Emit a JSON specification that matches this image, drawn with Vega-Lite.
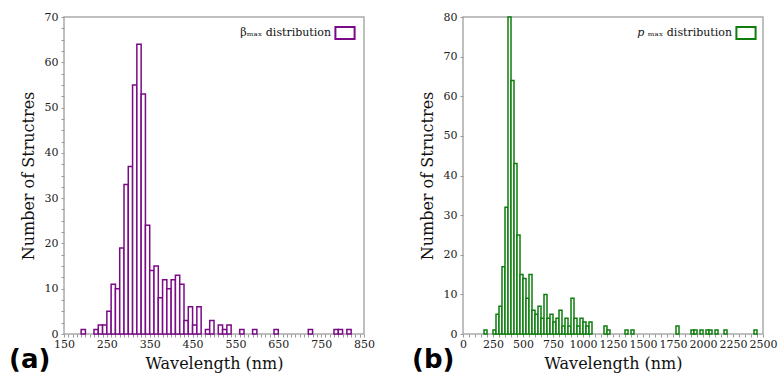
{
  "$schema": "https://vega.github.io/schema/vega-lite/v6.json",
  "padding": {"left": 8, "top": 10, "right": 0, "bottom": 0},
  "background": "white",
  "datasets": {
    "beta": [
      {"lo": 190, "hi": 200, "count": 1, "series": "βₘₐₓ distribution"},
      {"lo": 220, "hi": 230, "count": 1, "series": "βₘₐₓ distribution"},
      {"lo": 230, "hi": 240, "count": 2, "series": "βₘₐₓ distribution"},
      {"lo": 240, "hi": 250, "count": 2, "series": "βₘₐₓ distribution"},
      {"lo": 250, "hi": 260, "count": 5, "series": "βₘₐₓ distribution"},
      {"lo": 260, "hi": 270, "count": 11, "series": "βₘₐₓ distribution"},
      {"lo": 270, "hi": 280, "count": 10, "series": "βₘₐₓ distribution"},
      {"lo": 280, "hi": 290, "count": 19, "series": "βₘₐₓ distribution"},
      {"lo": 290, "hi": 300, "count": 33, "series": "βₘₐₓ distribution"},
      {"lo": 300, "hi": 310, "count": 37, "series": "βₘₐₓ distribution"},
      {"lo": 310, "hi": 320, "count": 55, "series": "βₘₐₓ distribution"},
      {"lo": 320, "hi": 330, "count": 64, "series": "βₘₐₓ distribution"},
      {"lo": 330, "hi": 340, "count": 53, "series": "βₘₐₓ distribution"},
      {"lo": 340, "hi": 350, "count": 24, "series": "βₘₐₓ distribution"},
      {"lo": 350, "hi": 360, "count": 14, "series": "βₘₐₓ distribution"},
      {"lo": 360, "hi": 370, "count": 15, "series": "βₘₐₓ distribution"},
      {"lo": 370, "hi": 380, "count": 8, "series": "βₘₐₓ distribution"},
      {"lo": 380, "hi": 390, "count": 12, "series": "βₘₐₓ distribution"},
      {"lo": 390, "hi": 400, "count": 10, "series": "βₘₐₓ distribution"},
      {"lo": 400, "hi": 410, "count": 12, "series": "βₘₐₓ distribution"},
      {"lo": 410, "hi": 420, "count": 13, "series": "βₘₐₓ distribution"},
      {"lo": 420, "hi": 430, "count": 11, "series": "βₘₐₓ distribution"},
      {"lo": 430, "hi": 440, "count": 3, "series": "βₘₐₓ distribution"},
      {"lo": 440, "hi": 450, "count": 6, "series": "βₘₐₓ distribution"},
      {"lo": 450, "hi": 460, "count": 2, "series": "βₘₐₓ distribution"},
      {"lo": 460, "hi": 470, "count": 6, "series": "βₘₐₓ distribution"},
      {"lo": 480, "hi": 490, "count": 1, "series": "βₘₐₓ distribution"},
      {"lo": 490, "hi": 500, "count": 3, "series": "βₘₐₓ distribution"},
      {"lo": 510, "hi": 520, "count": 2, "series": "βₘₐₓ distribution"},
      {"lo": 520, "hi": 530, "count": 1, "series": "βₘₐₓ distribution"},
      {"lo": 530, "hi": 540, "count": 2, "series": "βₘₐₓ distribution"},
      {"lo": 560, "hi": 570, "count": 1, "series": "βₘₐₓ distribution"},
      {"lo": 590, "hi": 600, "count": 1, "series": "βₘₐₓ distribution"},
      {"lo": 640, "hi": 650, "count": 1, "series": "βₘₐₓ distribution"},
      {"lo": 720, "hi": 730, "count": 1, "series": "βₘₐₓ distribution"},
      {"lo": 780, "hi": 790, "count": 1, "series": "βₘₐₓ distribution"},
      {"lo": 790, "hi": 800, "count": 1, "series": "βₘₐₓ distribution"},
      {"lo": 810, "hi": 820, "count": 1, "series": "βₘₐₓ distribution"}
    ],
    "pmax": [
      {"lo": 175, "hi": 200, "count": 1, "series": "𝑝 ₘₐₓ distribution"},
      {"lo": 250, "hi": 275, "count": 1, "series": "𝑝 ₘₐₓ distribution"},
      {"lo": 275, "hi": 300, "count": 5, "series": "𝑝 ₘₐₓ distribution"},
      {"lo": 300, "hi": 325, "count": 7, "series": "𝑝 ₘₐₓ distribution"},
      {"lo": 325, "hi": 350, "count": 17, "series": "𝑝 ₘₐₓ distribution"},
      {"lo": 350, "hi": 375, "count": 32, "series": "𝑝 ₘₐₓ distribution"},
      {"lo": 375, "hi": 400, "count": 80, "series": "𝑝 ₘₐₓ distribution"},
      {"lo": 400, "hi": 425, "count": 64, "series": "𝑝 ₘₐₓ distribution"},
      {"lo": 425, "hi": 450, "count": 43, "series": "𝑝 ₘₐₓ distribution"},
      {"lo": 450, "hi": 475, "count": 25, "series": "𝑝 ₘₐₓ distribution"},
      {"lo": 475, "hi": 500, "count": 15, "series": "𝑝 ₘₐₓ distribution"},
      {"lo": 500, "hi": 525, "count": 14, "series": "𝑝 ₘₐₓ distribution"},
      {"lo": 525, "hi": 550, "count": 9, "series": "𝑝 ₘₐₓ distribution"},
      {"lo": 550, "hi": 575, "count": 15, "series": "𝑝 ₘₐₓ distribution"},
      {"lo": 575, "hi": 600, "count": 6, "series": "𝑝 ₘₐₓ distribution"},
      {"lo": 600, "hi": 625, "count": 5, "series": "𝑝 ₘₐₓ distribution"},
      {"lo": 625, "hi": 650, "count": 7, "series": "𝑝 ₘₐₓ distribution"},
      {"lo": 650, "hi": 675, "count": 4, "series": "𝑝 ₘₐₓ distribution"},
      {"lo": 675, "hi": 700, "count": 10, "series": "𝑝 ₘₐₓ distribution"},
      {"lo": 700, "hi": 725, "count": 4, "series": "𝑝 ₘₐₓ distribution"},
      {"lo": 725, "hi": 750, "count": 5, "series": "𝑝 ₘₐₓ distribution"},
      {"lo": 750, "hi": 775, "count": 3, "series": "𝑝 ₘₐₓ distribution"},
      {"lo": 775, "hi": 800, "count": 4, "series": "𝑝 ₘₐₓ distribution"},
      {"lo": 800, "hi": 825, "count": 6, "series": "𝑝 ₘₐₓ distribution"},
      {"lo": 825, "hi": 850, "count": 2, "series": "𝑝 ₘₐₓ distribution"},
      {"lo": 850, "hi": 875, "count": 4, "series": "𝑝 ₘₐₓ distribution"},
      {"lo": 875, "hi": 900, "count": 2, "series": "𝑝 ₘₐₓ distribution"},
      {"lo": 900, "hi": 925, "count": 9, "series": "𝑝 ₘₐₓ distribution"},
      {"lo": 925, "hi": 950, "count": 4, "series": "𝑝 ₘₐₓ distribution"},
      {"lo": 950, "hi": 975, "count": 2, "series": "𝑝 ₘₐₓ distribution"},
      {"lo": 975, "hi": 1000, "count": 4, "series": "𝑝 ₘₐₓ distribution"},
      {"lo": 1000, "hi": 1025, "count": 3, "series": "𝑝 ₘₐₓ distribution"},
      {"lo": 1025, "hi": 1050, "count": 2, "series": "𝑝 ₘₐₓ distribution"},
      {"lo": 1050, "hi": 1075, "count": 3, "series": "𝑝 ₘₐₓ distribution"},
      {"lo": 1175, "hi": 1200, "count": 2, "series": "𝑝 ₘₐₓ distribution"},
      {"lo": 1200, "hi": 1225, "count": 1, "series": "𝑝 ₘₐₓ distribution"},
      {"lo": 1350, "hi": 1375, "count": 1, "series": "𝑝 ₘₐₓ distribution"},
      {"lo": 1400, "hi": 1425, "count": 1, "series": "𝑝 ₘₐₓ distribution"},
      {"lo": 1775, "hi": 1800, "count": 2, "series": "𝑝 ₘₐₓ distribution"},
      {"lo": 1900, "hi": 1925, "count": 1, "series": "𝑝 ₘₐₓ distribution"},
      {"lo": 1925, "hi": 1950, "count": 1, "series": "𝑝 ₘₐₓ distribution"},
      {"lo": 1975, "hi": 2000, "count": 1, "series": "𝑝 ₘₐₓ distribution"},
      {"lo": 2025, "hi": 2050, "count": 1, "series": "𝑝 ₘₐₓ distribution"},
      {"lo": 2050, "hi": 2075, "count": 1, "series": "𝑝 ₘₐₓ distribution"},
      {"lo": 2100, "hi": 2125, "count": 1, "series": "𝑝 ₘₐₓ distribution"},
      {"lo": 2175, "hi": 2200, "count": 1, "series": "𝑝 ₘₐₓ distribution"},
      {"lo": 2425, "hi": 2450, "count": 1, "series": "𝑝 ₘₐₓ distribution"}
    ]
  },
  "spacing": 35,
  "resolve": {"scale": {"stroke": "independent"}, "legend": {"stroke": "independent"}},
  "hconcat": [
    {
      "width": 300,
      "height": 317,
      "data": {"name": "beta"},
      "title": {"text": "(a)", "orient": "bottom", "anchor": "start", "frame": "group", "dx": -55, "offset": -24},
      "mark": {"type": "rect", "fill": "white", "strokeWidth": 1.5},
      "encoding": {
        "x": {
          "field": "lo", "type": "quantitative",
          "scale": {"domain": [150, 850], "nice": false, "zero": false},
          "title": "Wavelength (nm)",
          "axis": {
            "format": "d",
            "values": [150,160,170,180,190,200,210,220,230,240,250,260,270,280,290,300,310,320,330,340,350,360,370,380,390,400,410,420,430,440,450,460,470,480,490,500,510,520,530,540,550,560,570,580,590,600,610,620,630,640,650,660,670,680,690,700,710,720,730,740,750,760,770,780,790,800,810,820,830,840,850],
            "labelExpr": "(datum.value - 150) % 100 === 0 ? datum.label : ''"
          }
        },
        "x2": {"field": "hi"},
        "y": {
          "field": "count", "type": "quantitative",
          "scale": {"domain": [0, 70], "nice": false},
          "title": "Number of Structres",
          "axis": {
            "values": [0,2.5,5,7.5,10,12.5,15,17.5,20,22.5,25,27.5,30,32.5,35,37.5,40,42.5,45,47.5,50,52.5,55,57.5,60,62.5,65,67.5,70],
            "labelExpr": "datum.value % 10 === 0 ? datum.label : ''"
          }
        },
        "y2": {"datum": 0},
        "stroke": {
          "field": "series", "type": "nominal",
          "scale": {"range": ["#7a0a86"]},
          "legend": {"orient": "none", "legendX": 274, "legendY": 9}
        }
      }
    },
    {
      "width": 300,
      "height": 317,
      "data": {"name": "pmax"},
      "title": {"text": "(b)", "orient": "bottom", "anchor": "start", "frame": "group", "dx": -51, "offset": -24},
      "mark": {"type": "rect", "fill": "white", "strokeWidth": 1.5},
      "encoding": {
        "x": {
          "field": "lo", "type": "quantitative",
          "scale": {"domain": [0, 2500], "nice": false, "zero": false},
          "title": "Wavelength (nm)",
          "axis": {
            "format": "d",
            "values": [0,50,100,150,200,250,300,350,400,450,500,550,600,650,700,750,800,850,900,950,1000,1050,1100,1150,1200,1250,1300,1350,1400,1450,1500,1550,1600,1650,1700,1750,1800,1850,1900,1950,2000,2050,2100,2150,2200,2250,2300,2350,2400,2450,2500],
            "labelExpr": "datum.value % 250 === 0 ? datum.label : ''"
          }
        },
        "x2": {"field": "hi"},
        "y": {
          "field": "count", "type": "quantitative",
          "scale": {"domain": [0, 80], "nice": false},
          "title": "Number of Structres",
          "axis": {"values": [0,10,20,30,40,50,60,70,80]}
        },
        "y2": {"datum": 0},
        "stroke": {
          "field": "series", "type": "nominal",
          "scale": {"range": ["#0e7d0e"]},
          "legend": {"orient": "none", "legendX": 276, "legendY": 9}
        }
      }
    }
  ],
  "config": {
    "view": {"stroke": "#aaaaaa", "strokeWidth": 1.5},
    "font": "DejaVu Serif, Liberation Serif, serif",
    "axis": {
      "labelFont": "DejaVu Serif, Liberation Serif, serif", "labelFontSize": 11, "labelColor": "#222222",
      "labelOverlap": false, "labelFlush": false, "labelPadding": 3,
      "titleFont": "DejaVu Serif, Liberation Serif, serif", "titleFontSize": 16, "titleFontWeight": "normal", "titleColor": "#111111",
      "domain": false, "grid": false, "tickColor": "#999999", "tickSize": 3, "tickWidth": 1
    },
    "axisX": {"titlePadding": 6, "labelPadding": 1},
    "axisY": {"titlePadding": 8},
    "legend": {
      "title": null, "padding": 0, "offset": 0,
      "labelFont": "DejaVu Serif, Liberation Serif, serif", "labelFontSize": 11, "labelColor": "#111111",
      "symbolType": "M-1.6,-1H1.6V1H-1.6Z", "symbolSize": 144,
      "symbolFillColor": "white", "symbolStrokeWidth": 2,
      "labelAlign": "right", "labelOffset": -21
    },
    "title": {"font": "DejaVu Sans", "fontSize": 26, "fontWeight": "bold", "color": "#000000", "baseline": "top"}
  }
}
